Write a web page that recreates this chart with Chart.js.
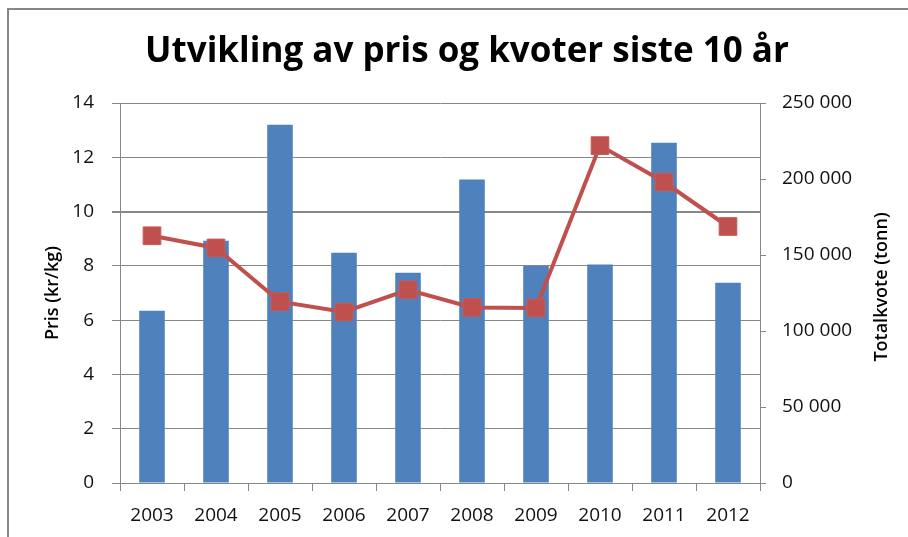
<!DOCTYPE html>
<html lang="no">
<head>
<meta charset="utf-8">
<title>Utvikling av pris og kvoter siste 10 år</title>
<script src="https://cdn.jsdelivr.net/npm/chart.js@4.4.1/dist/chart.umd.min.js"></script>
<style>
    html, body { margin: 0; padding: 0; background: #fff; }
    .wrap { position: relative; width: 908px; height: 537px; overflow: hidden; }
    .frame {
        position: absolute; left: 7px; top: 8px; width: 920px; height: 560px;
        border-top: 2px solid #878787; border-left: 2px solid #878787;
        pointer-events: none;
    }
    canvas { position: absolute; left: 0; top: 0; }
</style>
</head>
<body>
<div class="wrap">
    <canvas id="kvoteChart" width="908" height="537"></canvas>
    <div class="frame"></div>
</div>
<script>
// Data
const years = ['2003', '2004', '2005', '2006', '2007', '2008', '2009', '2010', '2011', '2012'];
const totalkvote = [113400, 159400, 235700, 151500, 138400, 199600, 143000, 143700, 223900, 131800];
const pris = [9.11, 8.66, 6.68, 6.30, 7.12, 6.47, 6.45, 12.43, 11.09, 9.45];
const prisTicks = [0, 2, 4, 6, 8, 10, 12, 14];
const kvoteTicks = [0, 50000, 100000, 150000, 200000, 250000];

document.addEventListener('DOMContentLoaded', function() {
    const gridGrey = '#878787';
    const tickFont = { family: 'Open Sans', size: 19 };
    const titleFont = { family: 'Open Sans', size: 18, weight: '600' };

    // thousands with a space, like "250 000"
    const spaced = v => String(v).replace(/\B(?=(\d{3})+(?!\d))/g, ' ');

    // Excel writes the right axis title bottom-to-top, Chart.js would turn it the other way
    const rightTitle = {
        id: 'rightTitle',
        afterDraw(chart) {
            const c = chart.ctx;
            const area = chart.chartArea;
            c.save();
            c.translate(882, (area.top + area.bottom) / 2 - 6);
            c.rotate(-Math.PI / 2);
            c.font = '600 18px "Open Sans"';
            c.fillStyle = '#000';
            c.textAlign = 'center';
            c.textBaseline = 'middle';
            c.fillText('Totalkvote (tonn)', 0, 0);
            c.restore();
        }
    };

    const ctx = document.getElementById('kvoteChart').getContext('2d');

    new Chart(ctx, {
        data: {
            labels: years,
            datasets: [
                {
                    type: 'line',
                    label: 'Pris (kr/kg)',
                    data: pris,
                    yAxisID: 'y',
                    order: 0,
                    borderColor: '#C0504D',
                    borderWidth: 4,
                    pointStyle: 'rect',
                    pointRadius: 12.5,
                    pointBorderWidth: 1,
                    pointBackgroundColor: '#C0504D',
                    pointBorderColor: '#C55A57',
                    tension: 0
                },
                {
                    type: 'bar',
                    label: 'Totalkvote (tonn)',
                    data: totalkvote,
                    yAxisID: 'y1',
                    order: 1,
                    backgroundColor: '#4F81BD',
                    barPercentage: 0.4,
                    categoryPercentage: 1
                }
            ]
        },
        options: {
            responsive: false,
            animation: false,
            // left padding moves the title centre over the framed area
            layout: { padding: { left: 26, right: 0, top: 0, bottom: 0 } },
            plugins: {
                legend: { display: false },
                tooltip: { enabled: false },
                title: {
                    display: true,
                    text: 'Utvikling av pris og kvoter siste 10 år',
                    color: '#000',
                    font: { family: 'Open Sans', size: 35, weight: 'bold', lineHeight: 1.2 },
                    padding: { top: 31, bottom: 30 }
                }
            },
            scales: {
                x: {
                    offset: true,
                    afterFit: scale => { scale.height = 54; },
                    grid: {
                        offset: true,
                        drawOnChartArea: false,
                        color: gridGrey,
                        tickLength: 8
                    },
                    border: { color: gridGrey, width: 1 },
                    ticks: { color: '#111', font: tickFont, padding: 13, maxRotation: 0 }
                },
                y: {
                    position: 'left',
                    min: 0,
                    max: 14,
                    afterFit: scale => { scale.width = 94; },
                    afterBuildTicks: scale => { scale.ticks = prisTicks.map(v => ({ value: v })); },
                    grid: {
                        color: gridGrey,
                        lineWidth: c => (c.tick && c.tick.value === 10 ? 2 : 1),
                        tickLength: 8
                    },
                    border: { color: gridGrey, width: 1 },
                    ticks: { color: '#111', font: tickFont, padding: 18 },
                    title: {
                        display: true,
                        text: 'Pris (kr/kg)',
                        color: '#000',
                        font: titleFont,
                        padding: { top: 16, bottom: 0 }
                    }
                },
                y1: {
                    position: 'right',
                    min: 0,
                    max: 250000,
                    afterFit: scale => { scale.width = 148; },
                    afterBuildTicks: scale => { scale.ticks = kvoteTicks.map(v => ({ value: v })); },
                    grid: {
                        drawOnChartArea: false,
                        color: gridGrey,
                        tickLength: 6
                    },
                    border: { color: gridGrey, width: 1 },
                    ticks: { color: '#111', font: tickFont, padding: 16, callback: v => spaced(v) }
                }
            }
        },
        plugins: [rightTitle]
    });
});
</script>
</body>
</html>
